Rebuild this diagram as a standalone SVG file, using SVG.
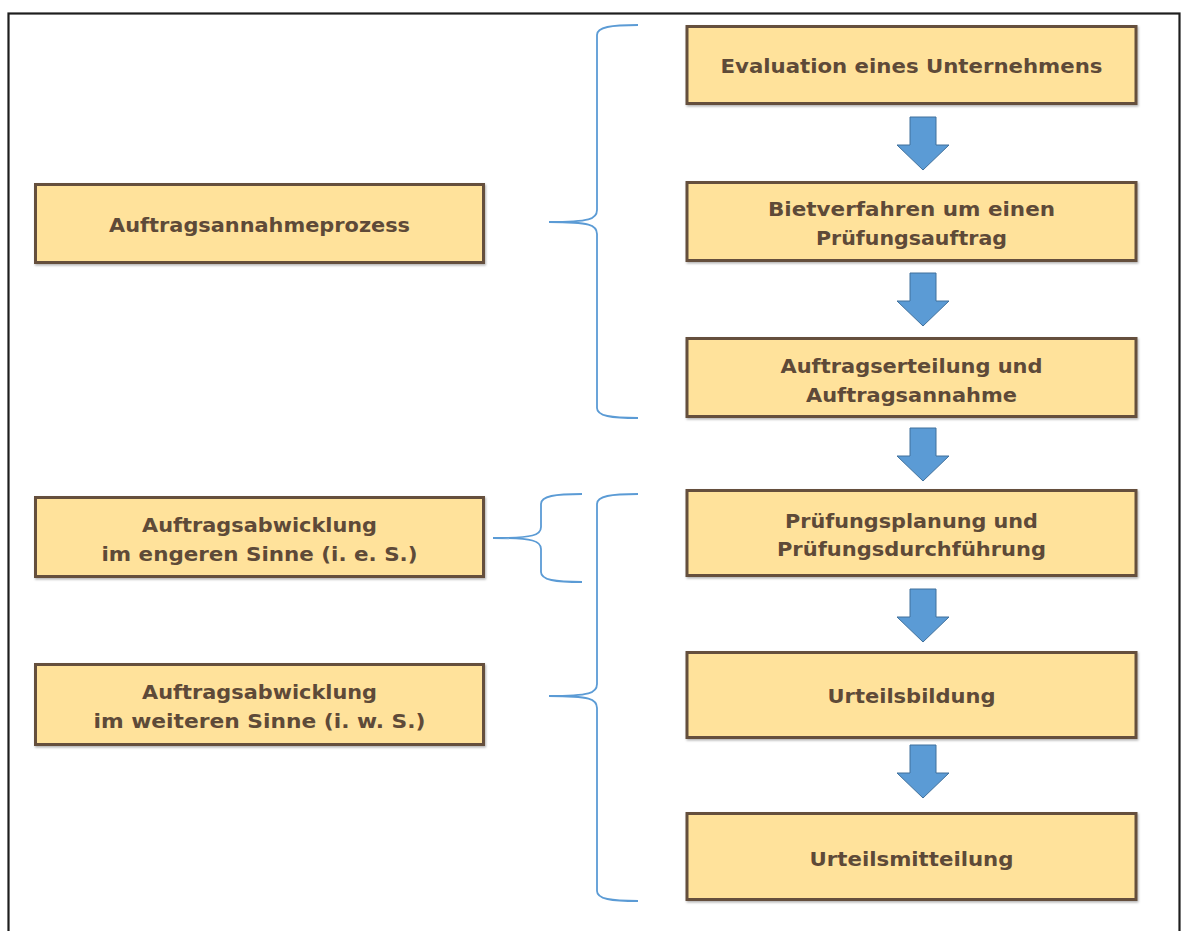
<svg xmlns="http://www.w3.org/2000/svg" width="1181" height="931" viewBox="0 0 1181 931">
  <style>
    .box { fill: #FFE29B; stroke: #65503C; stroke-width: 3; filter: url(#shadow); }
    .lbl { font-family: "DejaVu Sans", Verdana, sans-serif; font-weight: bold; font-size: 20px; fill: #5E4A38; text-anchor: middle; }
    .brace { fill: none; stroke: #5B9BD5; stroke-width: 1.8; }
    .arrow { fill: #5B9BD5; stroke: #41719C; stroke-width: 1; }
  </style>
  <defs>
    <filter id="shadow" x="-5%" y="-10%" width="110%" height="125%">
      <feDropShadow dx="1" dy="1.5" stdDeviation="1" flood-color="#000" flood-opacity="0.3"/>
    </filter>
    <path id="down-arrow" d="M-13,0 H13 V28 H26 L0,53 L-26,28 H-13 Z"/>
  </defs>

  <rect width="1181" height="931" fill="#FFFFFF"/>
  <!-- outer frame -->
  <rect x="8.5" y="13.5" width="1171" height="940" fill="none" stroke="#1E1E1E" stroke-width="2.2"/>

  <!-- process steps -->
  <g id="step-evaluation">
    <rect class="box" x="687" y="26.5" width="449" height="77"/>
    <text class="lbl" x="911.5" y="73" textLength="382" lengthAdjust="spacingAndGlyphs">Evaluation eines Unternehmens</text>
  </g>
  <g id="step-bietverfahren">
    <rect class="box" x="687" y="182.5" width="449" height="78"/>
    <text class="lbl" x="911.5" y="215.5" textLength="287" lengthAdjust="spacingAndGlyphs">Bietverfahren um einen</text>
    <text class="lbl" x="911.5" y="244.5" textLength="191" lengthAdjust="spacingAndGlyphs">Prüfungsauftrag</text>
  </g>
  <g id="step-auftragserteilung">
    <rect class="box" x="687" y="338.5" width="449" height="78"/>
    <text class="lbl" x="911.5" y="373" textLength="262" lengthAdjust="spacingAndGlyphs">Auftragserteilung und</text>
    <text class="lbl" x="911.5" y="402" textLength="211" lengthAdjust="spacingAndGlyphs">Auftragsannahme</text>
  </g>
  <g id="step-pruefungsplanung">
    <rect class="box" x="687" y="490.5" width="449" height="85"/>
    <text class="lbl" x="911.5" y="527.5" textLength="253" lengthAdjust="spacingAndGlyphs">Prüfungsplanung und</text>
    <text class="lbl" x="911.5" y="556" textLength="269" lengthAdjust="spacingAndGlyphs">Prüfungsdurchführung</text>
  </g>
  <g id="step-urteilsbildung">
    <rect class="box" x="687" y="652.5" width="449" height="85"/>
    <text class="lbl" x="911.5" y="703" textLength="168" lengthAdjust="spacingAndGlyphs">Urteilsbildung</text>
  </g>
  <g id="step-urteilsmitteilung">
    <rect class="box" x="687" y="813.5" width="449" height="86"/>
    <text class="lbl" x="911.5" y="866" textLength="204" lengthAdjust="spacingAndGlyphs">Urteilsmitteilung</text>
  </g>

  <!-- phase labels -->
  <g id="phase-annahme">
    <rect class="box" x="35.5" y="184.5" width="448" height="78"/>
    <text class="lbl" x="259.5" y="232" textLength="301" lengthAdjust="spacingAndGlyphs">Auftragsannahmeprozess</text>
  </g>
  <g id="phase-abwicklung-ies">
    <rect class="box" x="35.5" y="497.5" width="448" height="79"/>
    <text class="lbl" x="259.5" y="532" textLength="235" lengthAdjust="spacingAndGlyphs">Auftragsabwicklung</text>
    <text class="lbl" x="259.5" y="560.5" textLength="316" lengthAdjust="spacingAndGlyphs">im engeren Sinne (i. e. S.)</text>
  </g>
  <g id="phase-abwicklung-iws">
    <rect class="box" x="35.5" y="664.5" width="448" height="80"/>
    <text class="lbl" x="259.5" y="699" textLength="235" lengthAdjust="spacingAndGlyphs">Auftragsabwicklung</text>
    <text class="lbl" x="259.5" y="728" textLength="332" lengthAdjust="spacingAndGlyphs">im weiteren Sinne (i. w. S.)</text>
  </g>

  <!-- connectors: flow arrows and grouping braces -->
  <g id="connectors">
    <use href="#down-arrow" class="arrow" x="923" y="117"/>
    <use href="#down-arrow" class="arrow" x="923" y="273"/>
    <use href="#down-arrow" class="arrow" x="923" y="428"/>
    <use href="#down-arrow" class="arrow" x="923" y="589"/>
    <use href="#down-arrow" class="arrow" x="923" y="745"/>

    <path class="brace" d="M638,25 C611,25 597,27 597,35 V210 C597,219 590,222 549,222 C590,222 597,225 597,234 V408 C597,416 611,418 638,418"/>
    <path class="brace" d="M582,494 C555,494 541,496 541,504 V527 C541,535 534,538 493,538 C534,538 541,541 541,549 V572 C541,580 555,582 582,582"/>
    <path class="brace" d="M638,494 C611,494 597,496 597,504 V684 C597,693 590,696 549,696 C590,696 597,699 597,708 V891 C597,899 611,901 638,901"/>
  </g>
</svg>
